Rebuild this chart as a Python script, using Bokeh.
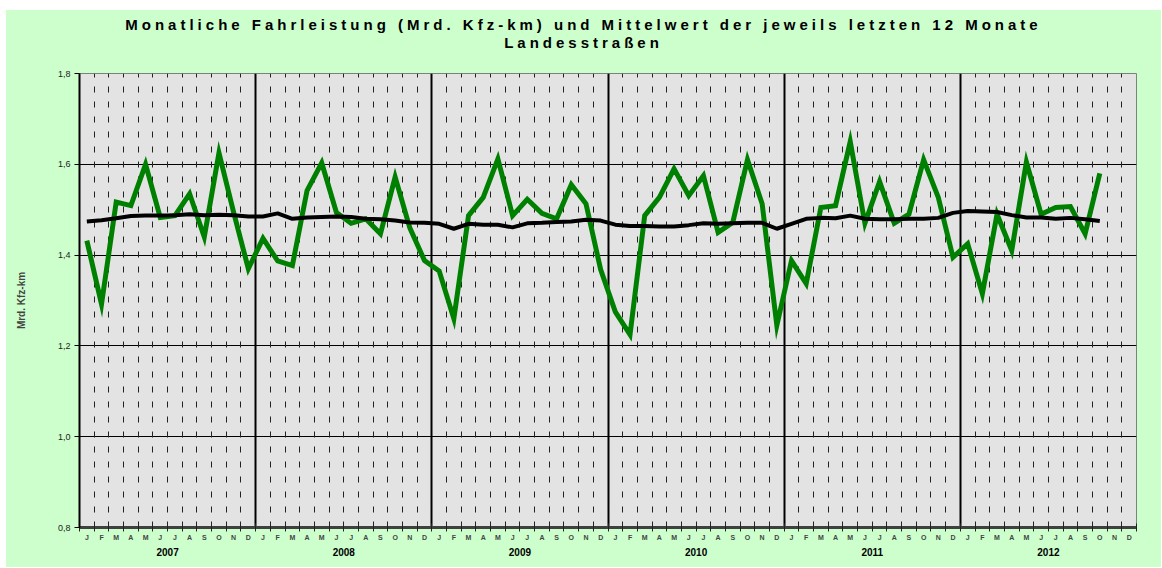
from bokeh.plotting import figure
from bokeh.models import (Range1d, FixedTicker, LinearAxis, Grid, CustomJSTickFormatter, Div)
from bokeh.layouts import column
from bokeh.embed import file_html
from bokeh.resources import INLINE

# ---- data ----
years = ["2007", "2008", "2009", "2010", "2011", "2012"]
month_labels = ["J", "F", "M", "A", "M", "J", "J", "A", "S", "O", "N", "D"]

monthly = [
    1.432, 1.292, 1.517, 1.509, 1.600, 1.483, 1.487, 1.535, 1.440, 1.625, 1.494, 1.370,  # 2007
    1.437, 1.387, 1.377, 1.542, 1.603, 1.494, 1.470, 1.480, 1.447, 1.572, 1.460, 1.388,  # 2008
    1.365, 1.260, 1.487, 1.527, 1.612, 1.487, 1.523, 1.492, 1.480, 1.555, 1.513, 1.368,  # 2009
    1.275, 1.225, 1.487, 1.527, 1.590, 1.531, 1.575, 1.450, 1.472, 1.610, 1.513, 1.245,  # 2010
    1.388, 1.337, 1.505, 1.509, 1.650, 1.470, 1.562, 1.470, 1.490, 1.610, 1.527, 1.395,  # 2011
    1.425, 1.315, 1.490, 1.410, 1.605, 1.490, 1.505, 1.507, 1.447, 1.580,                # 2012
]
mean12 = [
    1.474, 1.477, 1.481, 1.486, 1.487, 1.487, 1.488, 1.490, 1.488, 1.489, 1.488, 1.485,
    1.485, 1.492, 1.480, 1.483, 1.484, 1.485, 1.484, 1.480, 1.479, 1.476, 1.472, 1.471,
    1.469, 1.458, 1.469, 1.467, 1.467, 1.461, 1.470, 1.471, 1.473, 1.474, 1.478, 1.476,
    1.467, 1.464, 1.464, 1.463, 1.463, 1.466, 1.470, 1.469, 1.470, 1.471, 1.471, 1.458,
    1.469, 1.480, 1.482, 1.481, 1.487, 1.480, 1.479, 1.479, 1.480, 1.480, 1.482, 1.493,
    1.497, 1.496, 1.495, 1.488, 1.483, 1.483, 1.480, 1.482, 1.479, 1.475,
]
y_ticks = [0.8, 1.0, 1.2, 1.4, 1.6, 1.8]
y_title = "Mrd. Kfz-km"
title_line1 = "Monatliche Fahrleistung (Mrd. Kfz-km) und Mittelwert der jeweils letzten 12 Monate"
title_line2 = "Landesstraßen"

n_months = 12 * len(years)
x_monthly = [i + 0.5 for i in range(len(monthly))]
x_mean = [i + 0.5 for i in range(len(mean12))]
all_labels = month_labels * len(years)

BG = "#CCFFCC"
FONT = "Liberation Sans"
W = 1155

title_div = Div(
    text=(f'<div style="width:{W}px;height:50px;box-sizing:border-box;padding-top:6px;'
          f'text-align:center;font-family:\'{FONT}\',Arial,sans-serif;font-weight:bold;'
          f'font-size:15px;letter-spacing:4px;line-height:18px;color:#000;">'
          f'{title_line1}<br>{title_line2}</div>'),
    width=W, height=50,
    styles={"background-color": BG, "margin": "0", "padding": "0"},
)

p = figure(width=W, height=507, output_backend="svg", toolbar_location=None,
           x_range=Range1d(0, n_months), y_range=Range1d(0.8, 1.8),
           min_border_left=73, min_border_right=25, min_border_top=13, min_border_bottom=40)
p.background_fill_color = "#E3E3E3"
p.border_fill_color = BG
p.outline_line_color = "#808080"
p.outline_line_width = 1

p.xaxis.visible = False
p.xgrid.visible = False

month_axis = LinearAxis(
    ticker=FixedTicker(ticks=[i + 0.5 for i in range(n_months)],
                       minor_ticks=list(range(n_months + 1))),
    formatter=CustomJSTickFormatter(args=dict(labels=all_labels),
                                    code="return labels[Math.floor(tick)] || '';"),
)
month_axis.major_tick_out = 0
month_axis.major_tick_in = 0
month_axis.minor_tick_out = 4
month_axis.minor_tick_in = 4
month_axis.minor_tick_line_color = "#222222"
month_axis.axis_line_color = "#404040"
month_axis.axis_line_width = 3
month_axis.major_label_standoff = 2
month_axis.major_label_text_font = FONT
month_axis.major_label_text_font_size = "7px"
month_axis.major_label_text_font_style = "bold"
month_axis.major_label_text_color = "#444444"
p.add_layout(month_axis, "below")

year_axis = LinearAxis(
    ticker=FixedTicker(ticks=[12 * k + 6 for k in range(len(years))]),
    formatter=CustomJSTickFormatter(args=dict(years=years),
                                    code="return years[Math.floor(tick / 12)] || '';"),
)
year_axis.major_tick_out = 0
year_axis.major_tick_in = 0
year_axis.minor_tick_out = 0
year_axis.minor_tick_in = 0
year_axis.axis_line_color = None
year_axis.major_label_standoff = 4
year_axis.major_label_text_font = FONT
year_axis.major_label_text_font_size = "10px"
year_axis.major_label_text_font_style = "bold"
year_axis.major_label_text_color = "#000000"
p.add_layout(year_axis, "below")

month_bounds = [m for m in range(1, n_months) if m % 12 != 0]
year_bounds = [m for m in range(12, n_months, 12)]
p.add_layout(Grid(dimension=0, ticker=FixedTicker(ticks=month_bounds),
                  grid_line_color="#222222", grid_line_width=1, grid_line_dash="6 9"))
p.add_layout(Grid(dimension=0, ticker=FixedTicker(ticks=year_bounds),
                  grid_line_color="#000000", grid_line_width=2))

p.yaxis.ticker = FixedTicker(ticks=y_ticks)
p.yaxis.formatter = CustomJSTickFormatter(code="return tick.toFixed(1).replace('.', ',');")
p.yaxis.major_tick_out = 5
p.yaxis.major_tick_in = 0
p.yaxis.minor_tick_line_color = None
p.yaxis.axis_line_color = "#000000"
p.yaxis.axis_line_width = 2
p.yaxis.major_label_standoff = 4
p.yaxis.major_label_text_font = FONT
p.yaxis.major_label_text_font_size = "9px"
p.yaxis.major_label_text_color = "#222222"
p.yaxis.axis_label = y_title
p.yaxis.axis_label_text_font = FONT
p.yaxis.axis_label_text_font_size = "10px"
p.yaxis.axis_label_text_font_style = "bold"
p.yaxis.axis_label_standoff = 28
p.ygrid.ticker = FixedTicker(ticks=y_ticks)
p.ygrid.grid_line_color = "#000000"
p.ygrid.grid_line_width = 1

p.line(x_monthly, monthly, line_color="#008000", line_width=5, line_join="miter")
p.line(x_mean, mean12, line_color="#000000", line_width=4)

layout = column(title_div, p, spacing=0,
                styles={"background-color": BG, "margin-left": "6px", "margin-top": "10px"})

open("out.html", "w").write(file_html(layout, INLINE))
